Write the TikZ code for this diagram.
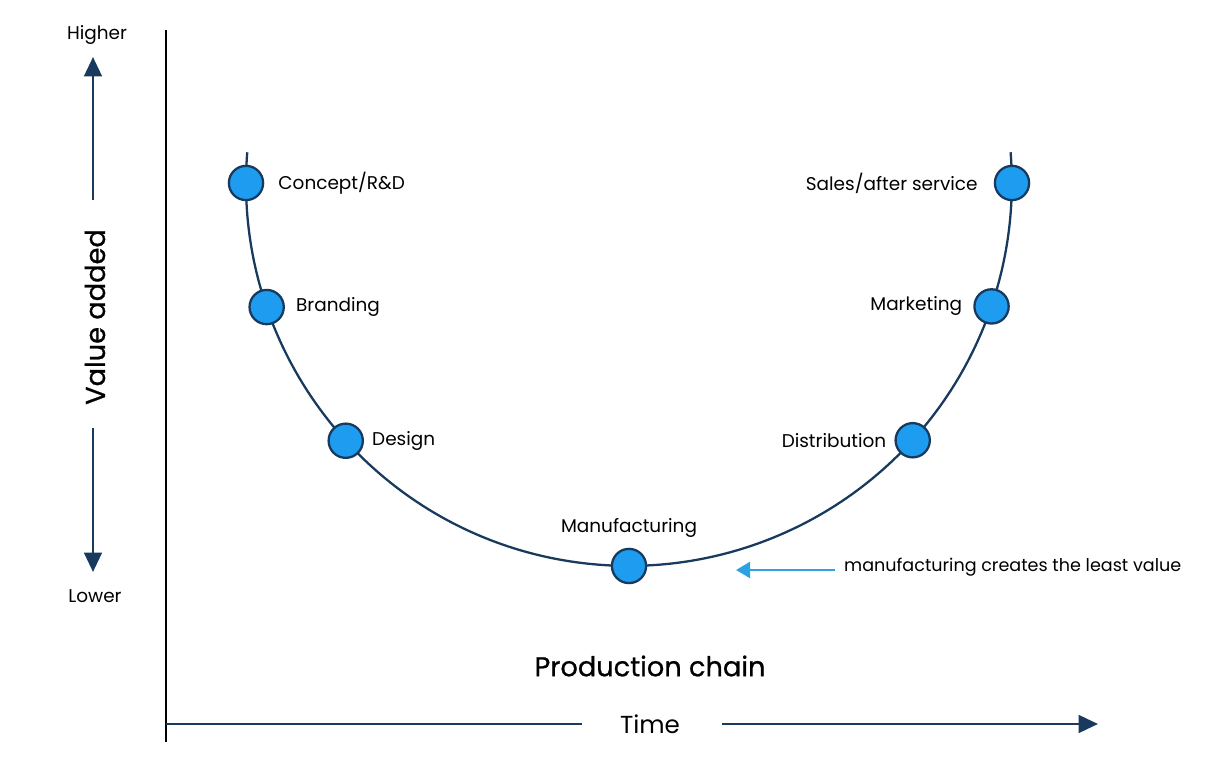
\documentclass[tikz,border=0pt]{standalone}
\usepackage{fontspec}
\setmainfont{Poppins}
\newfontfamily\headfont[FakeBold=0.8]{Poppins}
\usetikzlibrary{arrows.meta,calc}

\definecolor{navy}{HTML}{173A5E}
\definecolor{dotblue}{HTML}{1E9CF0}
\definecolor{hintblue}{HTML}{2BA3E3}

\tikzset{
  stage/.style={circle,draw=navy,fill=dotblue,line width=1.3pt,minimum size=19.5pt,inner sep=0pt},
  lbl/.style={font=\fontsize{10.5}{12}\selectfont,text=black},
  navyarrow/.style={navy,line width=1.6pt,-{Triangle[length=11pt,width=10pt]}}
}

\begin{document}
\begin{tikzpicture}[x=0.02cm,y=0.02cm]
   \useasboundingbox (0,0) rectangle (1223,759);
   % centre of the U curve
   \coordinate (C) at (629,576);

   % axes
   \coordinate (ytop) at (166,729);
   \coordinate (ybot) at (166,17);
   \draw[black,line width=1.7pt] (ytop) -- (ybot);
   \coordinate (xl) at (166,35);
   \coordinate (xr) at (1098,35);
   \node[font=\fontsize{14}{17}\selectfont] (time) at (650,35) {Time};
   \draw[navy,line width=1.7pt] (xl) -- (582,35);
   \draw[navyarrow] (722,35) -- (xr);
   \node[font=\fontsize{15.5}{18}\headfont] (chain) at (650,93) {Production chain};

   % value added arrows
   \node[lbl] (higher) at (97,724) {Higher};
   \node[lbl] (lower) at (95,163) {Lower};
   \node[rotate=90,font=\fontsize{15.5}{18}\headfont] (value) at (95,442) {Value added};
   \draw[navyarrow] (93,559) -- (93,702);
   \draw[navyarrow] (93,331) -- (93,187);

   % the U curve
   \draw[navy,line width=1.3pt] ([shift={(175.4:383)}]C) arc[start angle=175.4,end angle=364.6,radius=7.66cm];

   \node[stage] (concept) at ([shift={(180:383)}]C) {};
   \node[stage] (branding) at ([shift={(198.9:383)}]C) {};
   \node[stage] (design) at ([shift={(222.3:383)}]C) {};
   \node[stage] (manuf) at ([shift={(270:383)}]C) {};
   \node[stage] (distrib) at ([shift={(317.8:383)}]C) {};
   \node[stage] (marketing) at ([shift={(341.2:383)}]C) {};
   \node[stage] (sales) at ([shift={(360:383)}]C) {};

   \node[lbl,anchor=west] at ($(concept.east)+(8,0)$) {Concept/R\&D};
   \node[lbl,anchor=west] at ($(branding.east)+(5,0)$) {Branding};
   \node[lbl,anchor=west] at ($(design.east)+(2,0)$) {Design};
   \node[lbl,anchor=south] at ($(manuf.north)+(0,4)$) {Manufacturing};
   \node[lbl,anchor=east] at ($(distrib.west)+(-2,0)$) {Distribution};
   \node[lbl,anchor=east] at ($(marketing.west)+(-5,0)$) {Marketing};
   \node[lbl,anchor=east] at ($(sales.west)+(-10,0)$) {Sales/after service};

   % note on manufacturing
   \node[font=\fontsize{10}{12}\selectfont,anchor=west] (note) at (838,192) {manufacturing creates the least value};
   \coordinate (notetip) at (736,189);
   \draw[hintblue,line width=1.6pt,-{Triangle[length=8pt,width=9pt]}] (note.west) ++(-3,-3) -- (notetip);
\end{tikzpicture}
\end{document}
